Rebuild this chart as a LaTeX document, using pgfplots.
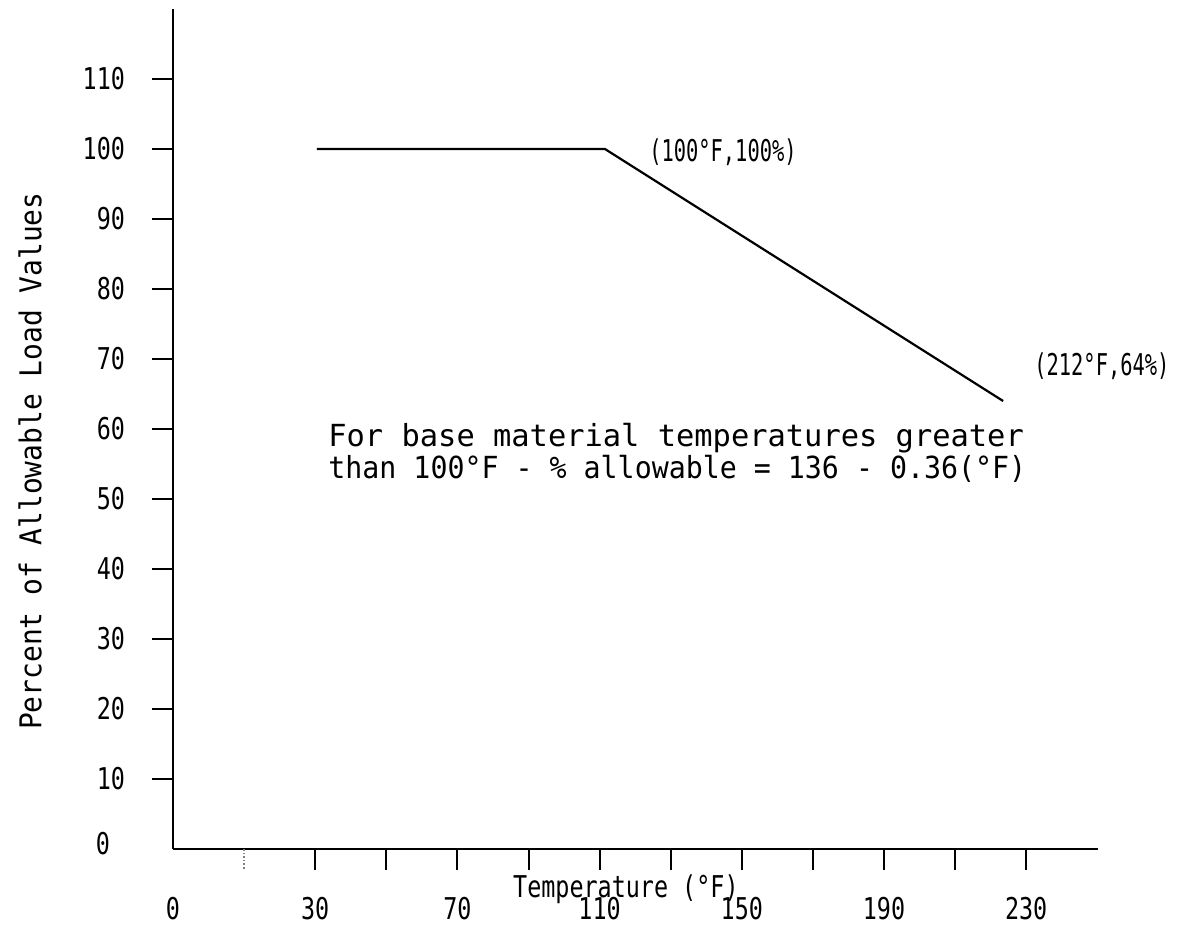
\documentclass[border=0pt]{standalone}
\usepackage{fontspec}
\setmainfont{DejaVu Sans Mono}
\newfontfamily\ticksfont[FakeStretch=0.78]{DejaVu Sans Mono}
\newfontfamily\ptfont[FakeStretch=0.68]{DejaVu Sans Mono}
\newfontfamily\labfont[FakeStretch=0.93]{DejaVu Sans Mono}
\newfontfamily\notefont[FakeStretch=0.93]{DejaVu Sans Mono}
\usepackage{pgfplots}
\pgfplotsset{compat=1.18}
\begin{document}
\begin{tikzpicture}
\path[use as bounding box] (-86.5pt,-38pt) rectangle (504.5pt,424.5pt);
\begin{axis}[
    at={(0pt,0pt)}, anchor=south west,
    scale only axis, width=462.5pt, height=420pt,
    axis lines=left,
    axis line style={-, line width=1.1pt},
    xmin=-21.5, xmax=238.7,
    ymin=0, ymax=120,
    xtick={18.5,38.5,58.5,78.5,98.5,118.5,138.5,158.5,178.5,198.5,218.5},
    xticklabels={30,,70,,110,,150,,190,,230},
    ytick={10,20,30,40,50,60,70,80,90,100,110},
    extra x ticks={-21.5}, extra x tick labels={0},
    extra y ticks={0},
    extra x tick style={major tick length=0pt, xticklabel style={yshift=-10.5pt}},
    extra y tick style={major tick length=0pt, yticklabel style={xshift=-18pt, yshift=2.5pt}},
    tick align=outside,
    major tick length=10.5pt,
    tick style={line width=1pt, black},
    /pgf/number format/assume math mode=true,
    xticklabel style={font=\ticksfont\fontsize{15}{18}\selectfont, yshift=-10pt},
    yticklabel style={font=\ticksfont\fontsize{15}{18}\selectfont, xshift=-10pt},
    clip=false,
  ]
  % derating line
  \addplot[black, line width=1.1pt] coordinates {(19,100) (100,100) (212,64)};
  % faint tick near the origin
  \draw[gray, densely dotted, line width=0.8pt] (axis cs:-1.5,0) -- ++(0pt,-10.5pt);
  \node[font=\ptfont\fontsize{15}{18}\selectfont] at (axis cs:133.2,99.6) {(100°F,100\%)};
  \node[font=\ptfont\fontsize{15}{18}\selectfont] at (axis cs:239.8,68.9) {(212°F,64\%)};
  \node[anchor=west, align=left, inner sep=0pt, font=\fontsize{15.2}{14}\selectfont]
    at (axis cs:22.1,56.6) {For base material temperatures greater\\{\notefont than 100°F - \% allowable = 136 - 0.36(°F)}};
  \node[font=\ticksfont\fontsize{15}{18}\selectfont] at (axis cs:105.9,0) [yshift=-20pt] {Temperature (°F)};
  \node[font=\labfont\fontsize{15}{18}\selectfont, xshift=-71.5pt, rotate=90] at (axis cs:-21.5,55.4) {Percent of Allowable Load Values};
\end{axis}
\end{tikzpicture}
\end{document}
